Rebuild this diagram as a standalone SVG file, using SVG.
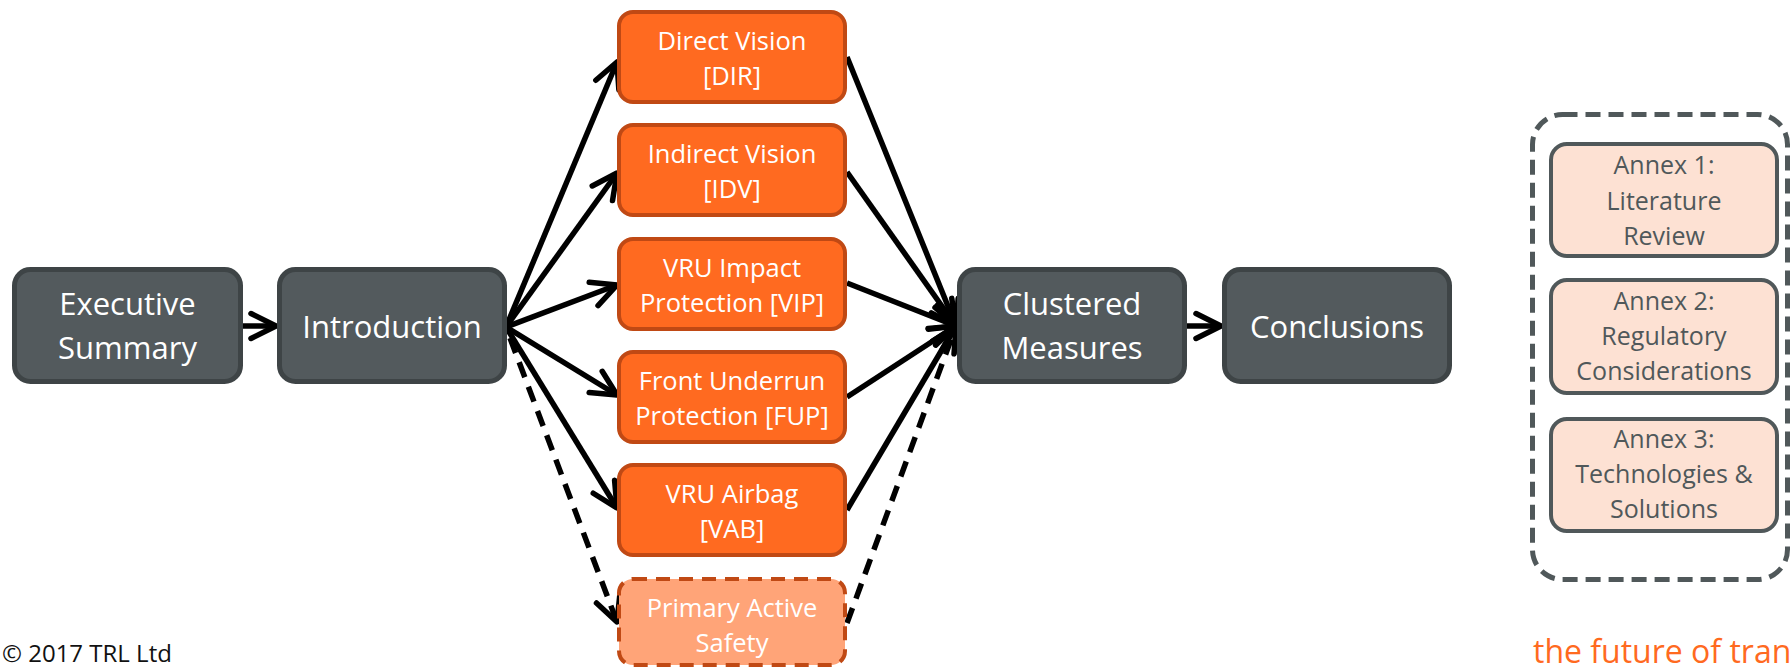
<svg xmlns="http://www.w3.org/2000/svg" width="1790" height="669" viewBox="0 0 1790 669">
  <defs>
    <style>
      .t { font-family: "Open Sans", "Liberation Sans", sans-serif; text-anchor: middle; }
      .main rect { fill: #535A5D; stroke: #3E4446; stroke-width: 5; }
      .main text { fill: #FFFFFF; font-size: 31px; }
      .meas rect { fill: #FF6A20; stroke: #C04914; stroke-width: 4; }
      .meas text { fill: #FFFFFF; font-size: 25.5px; }
      .opt rect { fill: #FFA478; stroke: #C04914; stroke-width: 4; stroke-dasharray: 14 9; }
      .annex rect { fill: #FDE1D3; stroke: #50585A; stroke-width: 4; }
      .annex text { fill: #50585A; font-size: 25px; }
      .edge { fill: none; stroke: #000; stroke-width: 5.5; marker-end: url(#chev); }
      .dash { stroke-dasharray: 16 10; }
    </style>
    <marker id="chev" markerUnits="userSpaceOnUse" markerWidth="40" markerHeight="40" refX="0" refY="0" viewBox="-30 -20 40 40" orient="auto" overflow="visible">
      <path d="M -25 -12.5 L 0 0 L -25 12.5" fill="none" stroke="#000" stroke-width="5.5" stroke-linecap="round" stroke-linejoin="round"/>
    </marker>
  </defs>

  <rect width="1790" height="669" fill="#FFFFFF"/>

  <!-- connectors -->
  <g id="connectors">
    <line class="edge" x1="243" y1="326" x2="276" y2="326"/>
    <line class="edge" x1="506" y1="327" x2="617" y2="62"/>
    <line class="edge" x1="506" y1="327" x2="617" y2="173"/>
    <line class="edge" x1="506" y1="327" x2="617" y2="285"/>
    <line class="edge" x1="506" y1="327" x2="617" y2="395"/>
    <line class="edge" x1="506" y1="327" x2="617" y2="508"/>
    <line class="edge dash" x1="510" y1="338" x2="617" y2="622"/>
    <line class="edge" x1="847" y1="57" x2="956" y2="326"/>
    <line class="edge" x1="847" y1="172" x2="956" y2="326"/>
    <line class="edge" x1="847" y1="283" x2="956" y2="326"/>
    <line class="edge" x1="847" y1="397" x2="956" y2="326"/>
    <line class="edge" x1="847" y1="510" x2="956" y2="326"/>
    <line class="edge dash" x1="847" y1="623" x2="956" y2="326"/>
    <line class="edge" x1="1187" y1="326" x2="1221" y2="326"/>
  </g>

  <!-- main chapters -->
  <g id="exec" class="main t">
    <rect x="14.5" y="269.5" width="226" height="112" rx="16"/>
    <text x="127.5" y="315">Executive</text>
    <text x="127.5" y="359">Summary</text>
  </g>
  <g id="intro" class="main t">
    <rect x="279.5" y="269.5" width="225" height="112" rx="16"/>
    <text x="392" y="338">Introduction</text>
  </g>
  <g id="clustered" class="main t">
    <rect x="959.5" y="269.5" width="225" height="112" rx="16"/>
    <text x="1072" y="315">Clustered</text>
    <text x="1072" y="359">Measures</text>
  </g>
  <g id="conclusions" class="main t">
    <rect x="1224.5" y="269.5" width="225" height="112" rx="16"/>
    <text x="1337" y="338">Conclusions</text>
  </g>

  <!-- measure chapters -->
  <g id="dir" class="meas t">
    <rect x="619" y="12" width="226" height="90" rx="14"/>
    <text x="732" y="50">Direct Vision</text>
    <text x="732" y="85">[DIR]</text>
  </g>
  <g id="idv" class="meas t">
    <rect x="619" y="125" width="226" height="90" rx="14"/>
    <text x="732" y="163">Indirect Vision</text>
    <text x="732" y="198">[IDV]</text>
  </g>
  <g id="vip" class="meas t">
    <rect x="619" y="239" width="226" height="90" rx="14"/>
    <text x="732" y="277">VRU Impact</text>
    <text x="732" y="312">Protection [VIP]</text>
  </g>
  <g id="fup" class="meas t">
    <rect x="619" y="352" width="226" height="90" rx="14"/>
    <text x="732" y="390">Front Underrun</text>
    <text x="732" y="425">Protection [FUP]</text>
  </g>
  <g id="vab" class="meas t">
    <rect x="619" y="465" width="226" height="90" rx="14"/>
    <text x="732" y="503">VRU Airbag</text>
    <text x="732" y="538">[VAB]</text>
  </g>
  <g id="pas" class="opt meas t">
    <rect x="619" y="579" width="226" height="86" rx="14" style="fill:#FFA478;stroke-dasharray:14 9"/>
    <text x="732" y="617">Primary Active</text>
    <text x="732" y="652">Safety</text>
  </g>

  <!-- annexes -->
  <g id="annexes" class="t">
    <rect x="1532.5" y="114.5" width="255" height="465" rx="30" fill="none" stroke="#50585A" stroke-width="5" stroke-dasharray="15 8"/>
  </g>
  <g id="annex1" class="annex t">
    <rect x="1551" y="144" width="226" height="112" rx="16"/>
    <text x="1664" y="174">Annex 1:</text>
    <text x="1664" y="210">Literature</text>
    <text x="1664" y="245">Review</text>
  </g>
  <g id="annex2" class="annex t">
    <rect x="1551" y="280" width="226" height="113" rx="16"/>
    <text x="1664" y="310">Annex 2:</text>
    <text x="1664" y="345">Regulatory</text>
    <text x="1664" y="380">Considerations</text>
  </g>
  <g id="annex3" class="annex t">
    <rect x="1551" y="419" width="226" height="112" rx="16"/>
    <text x="1664" y="448">Annex 3:</text>
    <text x="1664" y="483">Technologies &amp;</text>
    <text x="1664" y="518">Solutions</text>
  </g>

  <!-- footer -->
  <text x="2" y="662" font-family="Open Sans, Liberation Sans, sans-serif" font-size="24" fill="#111111">© 2017 TRL Ltd</text>
  <text x="1533" y="663" font-family="Open Sans, Liberation Sans, sans-serif" font-size="32" fill="#FF6A1F">the future of tran</text>
</svg>
